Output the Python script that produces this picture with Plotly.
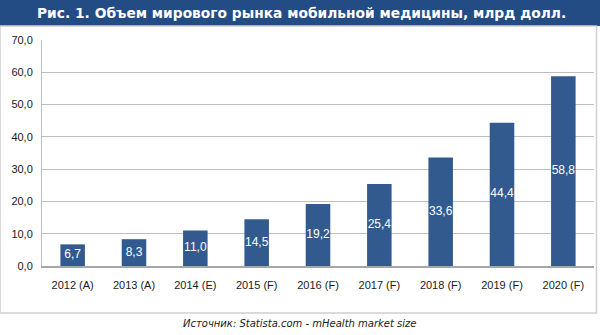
import plotly.graph_objects as go

categories = ["2012 (A)", "2013 (A)", "2014 (E)", "2015 (F)", "2016 (F)",
              "2017 (F)", "2018 (F)", "2019 (F)", "2020 (F)"]
values = [6.7, 8.3, 11.0, 14.5, 19.2, 25.4, 33.6, 44.4, 58.8]
y_ticks = [0, 10, 20, 30, 40, 50, 60, 70]

title_text = "Рис. 1. Объем мирового рынка мобильной медицины, млрд долл."
source_text = "Источник: Statista.com - mHealth market size"

W, H = 600, 335
ML, MR, MT, MB = 42, 6, 40, 69
PW, PH = W - ML - MR, H - MT - MB

def px_x(px):
    return (px - ML) / PW

def px_y(py):
    return (H - MB - py) / PH

bar_color = "#325A8F"
title_color = "#244C84"

fig = go.Figure()
fig.add_trace(go.Bar(
    x=categories, y=values, marker=dict(color=bar_color, line=dict(width=0)),
    width=0.4, hoverinfo="skip", showlegend=False,
))
fig.add_trace(go.Scatter(
    x=categories, y=[v / 2 for v in values], mode="text",
    text=[f"{v:.1f}".replace(".", ",") for v in values],
    textfont=dict(family="Liberation Sans", size=12, color="white"),
    hoverinfo="skip", showlegend=False,
))

shapes = [
    dict(type="rect", xref="paper", yref="paper",
         x0=px_x(0), x1=px_x(W), y0=px_y(26), y1=px_y(0),
         fillcolor=title_color, line=dict(width=0), layer="below"),
    dict(type="rect", xref="paper", yref="paper",
         x0=px_x(0), x1=px_x(596.5), y0=px_y(313), y1=px_y(26),
         fillcolor="rgba(0,0,0,0)", line=dict(color="#D0D0D0", width=1.5),
         layer="below"),
]

annotations = [
    dict(text=f"<b>{title_text}</b>", xref="paper", yref="paper",
         x=px_x(301), y=px_y(13), xanchor="center", yanchor="middle",
         showarrow=False,
         font=dict(family="DejaVu Sans", size=13.8, color="white")),
    dict(text=f"<i>{source_text}</i>", xref="paper", yref="paper",
         x=px_x(299), y=px_y(323), xanchor="center", yanchor="middle",
         showarrow=False,
         font=dict(family="DejaVu Sans", size=10, color="#1a1a1a")),
]

fig.update_layout(
    width=W, height=H,
    margin=dict(l=ML, r=MR, t=MT, b=MB, pad=0),
    paper_bgcolor="white", plot_bgcolor="white",
    separators=", ",
    shapes=shapes, annotations=annotations,
    font=dict(family="Liberation Sans", size=11, color="#1a1a1a"),
    xaxis=dict(
        type="category", showgrid=False, showline=True, linecolor="#A6A6A6",
        linewidth=1.5, ticks="", tickfont=dict(size=11), ticklabelstandoff=8,
        fixedrange=True,
    ),
    yaxis=dict(
        range=[0, 70], tickvals=y_ticks, tickformat=".1f",
        showgrid=True, gridcolor="#BEBEBE", gridwidth=1,
        showline=True, linecolor="#BEBEBE", linewidth=1,
        zeroline=False, ticks="", tickfont=dict(size=11),
        ticklabelstandoff=6, fixedrange=True,
    ),
)

fig.write_html("out.html")
